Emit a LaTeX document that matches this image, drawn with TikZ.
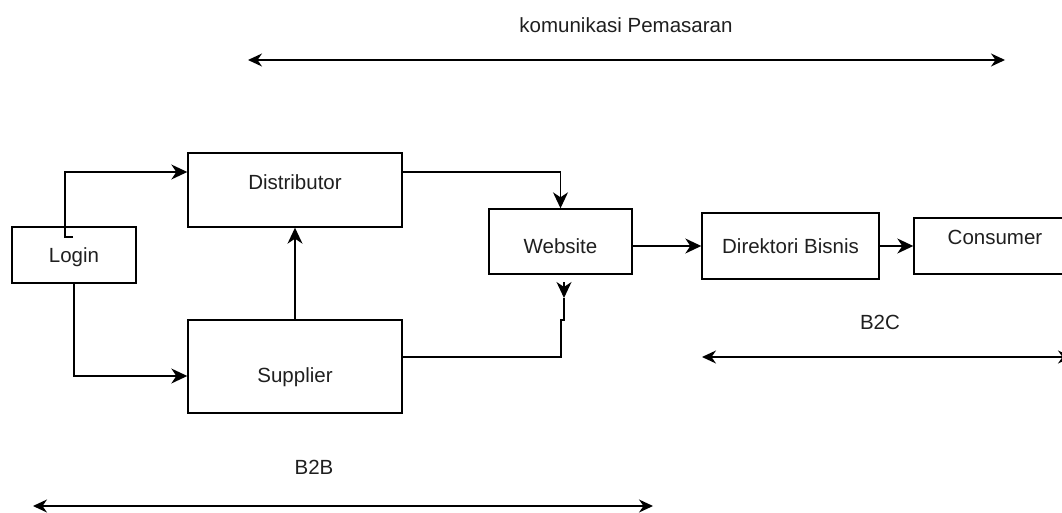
\documentclass[tikz,border=0pt]{standalone}
\usepackage{fontspec}
\setmainfont{Liberation Sans}
\usetikzlibrary{arrows.meta}

\begin{document}
\begin{tikzpicture}[x=1pt,y=-1pt,line width=1.4pt,
		box/.style={draw,rectangle,inner sep=0pt},
		lbl/.style={text=black!88,font=\fontsize{20.5}{24}\selectfont},
		arr/.style={-{Stealth[length=16pt,width=15pt,inset=5pt]}},
		dbl/.style={{Stealth[length=14pt,width=13pt,inset=4.5pt]}-{Stealth[length=14pt,width=13pt,inset=4.5pt]}}]
		\clip (0,0) rectangle (1062,513);
		\node[box,minimum width=124pt,minimum height=56pt,label={[lbl,yshift=-2pt]center:Login}] (login) at (74,255) {};
		\node[box,minimum width=214pt,minimum height=74pt,label={[lbl,yshift=8pt]center:Distributor}] (distributor) at (295,190) {};
		\node[box,minimum width=214pt,minimum height=93pt,label={[lbl,yshift=-11pt]center:Supplier}] (supplier) at (295,366.5) {};
		\node[box,minimum width=143pt,minimum height=65pt,label={[lbl,yshift=-5pt]center:Website}] (website) at (560.5,241.5) {};
		\node[box,minimum width=177pt,minimum height=66pt,label={[lbl]center:Direktori Bisnis}] (direktori) at (790.5,246) {};
		\node[box,minimum width=162pt,minimum height=56pt,label={[lbl,yshift=9pt]center:Consumer}] (consumer) at (995,246) {};
		\coordinate (lt) at (73,237);
		\coordinate (jog) at (561,320);
		\coordinate (tip) at (564,298);
		\draw[arr] (lt)--++(-8,0) |- ([yshift=18pt]distributor.west);
		\draw[arr] (login.south) |- ([yshift=-9.5pt]supplier.west);
		\draw[arr] (supplier.north)--(distributor.south);
		\draw[arr] ([yshift=18pt]distributor.east) -| (website.north);
		\draw ([yshift=9.5pt]supplier.east) -| (jog)--++(3,0)--(tip);
		\draw[arr] ([yshift=16pt]tip)--(tip);
		\draw[arr] (website.east |- direktori.west)--(direktori.west);
		\draw[arr] (direktori)--(consumer);
		\node[lbl] (kom) at (626,25) {komunikasi Pemasaran};
		\coordinate (koml) at (248,60);
		\coordinate (komr) at (1005,60);
		\draw[dbl] (koml)--(komr);
		\node[lbl] (btoc) at (880,322) {B2C};
		\coordinate (btocl) at (702,357);
		\coordinate (btocr) at (1072,357);
		\draw[dbl] (btocl)--(btocr);
		\node[lbl] (btob) at (314,467) {B2B};
		\coordinate (btobl) at (33,506);
		\coordinate (btobr) at (653,506);
		\draw[dbl] (btobl)--(btobr);
	\end{tikzpicture}
\end{document}
